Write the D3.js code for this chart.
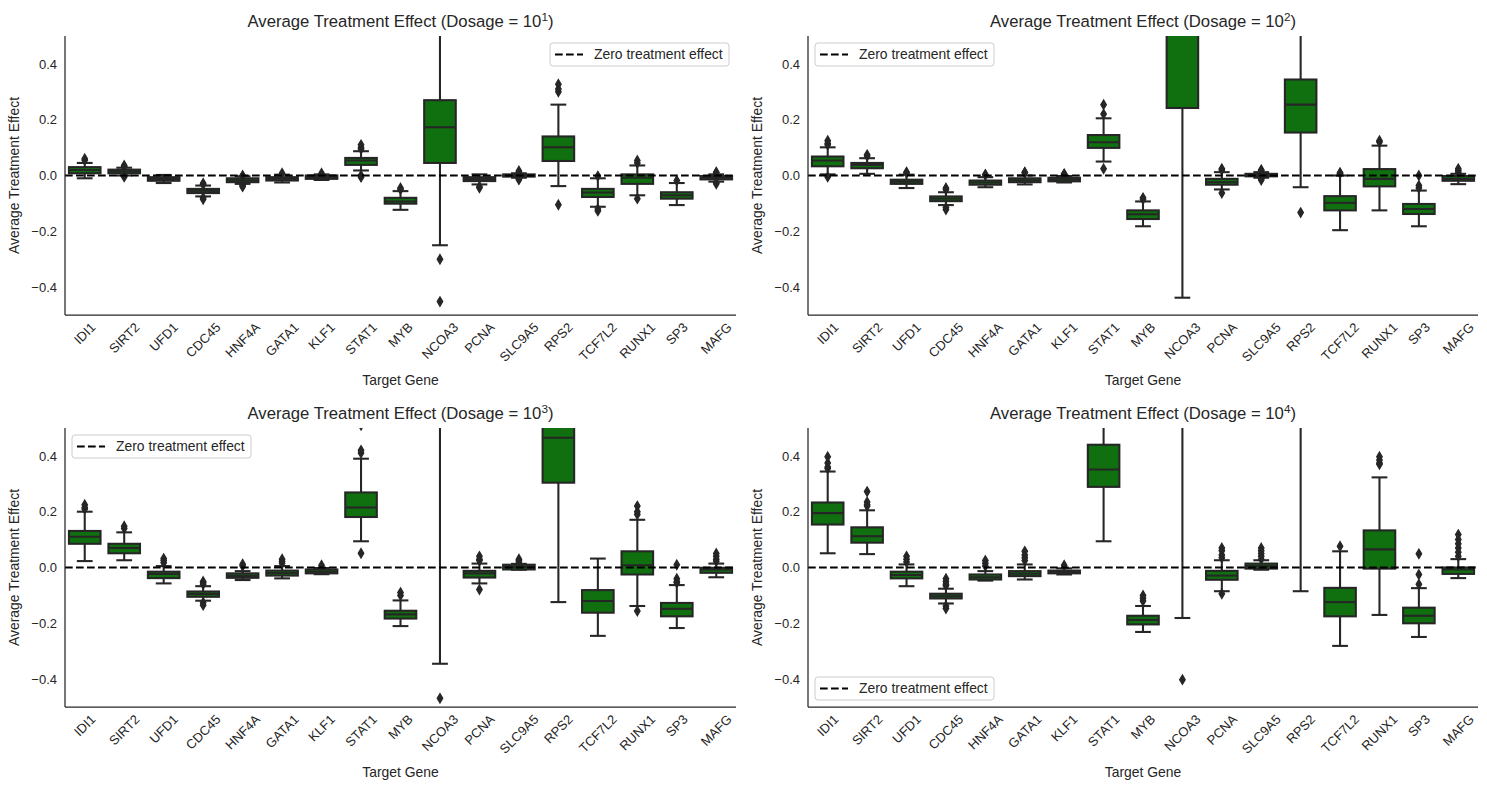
<!DOCTYPE html>
<html><head><meta charset="utf-8">
<script src="https://cdn.jsdelivr.net/npm/d3@7"></script>
<style>
body{margin:0;background:#fff;}
text{font-family:"Liberation Sans",Arial,sans-serif;fill:#262626;}
</style>
</head><body>
<svg id="c" width="1487" height="790"></svg>
<script>
// ---------------- DATA ----------------
const genes = ["IDI1","SIRT2","UFD1","CDC45","HNF4A","GATA1","KLF1","STAT1","MYB","NCOA3","PCNA","SLC9A5","RPS2","TCF7L2","RUNX1","SP3","MAFG"];
const dosageExponents = ["1","2","3","4"];
const yTicks = [-0.4, -0.2, 0.0, 0.2, 0.4];
const legendLabel = "Zero treatment effect";
const xLabel = "Target Gene";
const yLabel = "Average Treatment Effect";

// one row per dosage (10^1 .. 10^4), one value per gene
const q1 = [
  [0.008,0.008,-0.019,-0.063,-0.024,-0.018,-0.012,0.038,-0.101,0.045,-0.020,-0.004,0.052,-0.077,-0.030,-0.083,-0.014],
  [0.033,0.026,-0.030,-0.092,-0.033,-0.024,-0.021,0.099,-0.156,0.242,-0.033,-0.003,0.154,-0.125,-0.039,-0.138,-0.019],
  [0.085,0.051,-0.038,-0.105,-0.037,-0.029,-0.021,0.181,-0.183,0.600,-0.036,-0.007,0.304,-0.162,-0.025,-0.175,-0.019],
  [0.154,0.089,-0.039,-0.111,-0.043,-0.031,-0.021,0.289,-0.204,0.700,-0.044,-0.004,0.800,-0.175,-0.004,-0.200,-0.023]
];
const median = [
  [0.020,0.015,-0.013,-0.055,-0.017,-0.012,-0.006,0.054,-0.093,0.173,-0.013,0.000,0.101,-0.061,-0.008,-0.071,-0.008],
  [0.054,0.038,-0.022,-0.083,-0.025,-0.017,-0.015,0.119,-0.139,0.550,-0.024,0.002,0.254,-0.098,-0.012,-0.120,-0.012],
  [0.110,0.070,-0.023,-0.095,-0.030,-0.020,-0.015,0.215,-0.168,0.900,-0.021,0.002,0.465,-0.120,0.008,-0.148,-0.007],
  [0.195,0.112,-0.027,-0.103,-0.035,-0.022,-0.016,0.351,-0.188,1.000,-0.029,0.005,1.100,-0.124,0.065,-0.173,-0.007]
];
const q3 = [
  [0.030,0.021,-0.006,-0.048,-0.010,-0.006,0.000,0.063,-0.080,0.270,-0.006,0.004,0.140,-0.048,0.004,-0.060,-0.002],
  [0.068,0.045,-0.015,-0.075,-0.018,-0.010,-0.008,0.145,-0.125,0.850,-0.012,0.006,0.344,-0.074,0.023,-0.102,-0.002],
  [0.131,0.085,-0.015,-0.086,-0.021,-0.011,-0.007,0.269,-0.155,1.200,-0.012,0.010,0.620,-0.081,0.058,-0.127,-0.001],
  [0.233,0.144,-0.015,-0.094,-0.025,-0.013,-0.011,0.440,-0.173,1.300,-0.012,0.014,1.400,-0.073,0.133,-0.144,0.000]
];
const whiskerLow = [
  [-0.010,0.000,-0.027,-0.075,-0.030,-0.025,-0.016,0.018,-0.123,-0.250,-0.032,-0.008,-0.038,-0.112,-0.071,-0.106,-0.022],
  [0.004,0.006,-0.045,-0.106,-0.042,-0.032,-0.025,0.050,-0.182,-0.438,-0.050,-0.008,-0.042,-0.196,-0.125,-0.182,-0.031],
  [0.023,0.026,-0.057,-0.119,-0.045,-0.039,-0.024,0.094,-0.210,-0.345,-0.057,-0.008,-0.124,-0.245,-0.138,-0.217,-0.035],
  [0.051,0.048,-0.067,-0.129,-0.047,-0.043,-0.025,0.094,-0.231,-0.181,-0.085,-0.008,-0.085,-0.281,-0.170,-0.249,-0.038]
];
const whiskerHigh = [
  [0.045,0.028,0.002,-0.036,-0.003,0.003,0.004,0.087,-0.056,0.600,0.004,0.008,0.254,-0.010,0.036,-0.027,0.004],
  [0.101,0.062,0.003,-0.060,-0.006,0.000,-0.002,0.205,-0.093,1.500,0.012,0.012,0.700,0.000,0.107,-0.054,0.006],
  [0.200,0.126,0.005,-0.067,-0.013,0.005,-0.002,0.390,-0.118,2.000,0.014,0.013,1.000,0.032,0.171,-0.063,0.014],
  [0.344,0.205,0.011,-0.076,-0.013,0.011,-0.003,0.650,-0.138,2.000,0.026,0.026,2.000,0.058,0.323,-0.074,0.030]
];
const outliers = [
  [[0.055,0.060],[0.032,0.036,-0.005],[],[-0.028,-0.032,-0.080,-0.085],[0.000,-0.002,-0.033,-0.036,-0.040],[0.008],[0.008],[0.095,0.100,0.110,0.000,-0.006],[-0.045,-0.050],[-0.300,-0.452],[-0.040,-0.044],[0.012,0.016,-0.012,-0.015],[0.300,0.310,0.327,-0.105],[-0.002,-0.120,-0.127],[0.045,0.054,-0.083],[-0.018],[0.010,0.012,-0.026,-0.030]],
  [[0.110,0.115,0.125,-0.005],[0.070,0.074],[0.010,0.012],[-0.045,-0.050,-0.115,-0.122],[0.002,0.004],[0.010,0.012],[0.004,0.006],[0.220,0.254,0.024],[-0.080,-0.085],[],[0.020,0.024,-0.063],[0.018,0.020,-0.012,-0.016],[-0.133],[0.008,0.010],[0.120,0.125],[0.000,-0.036,-0.045],[0.012,0.018,0.024]],
  [[0.210,0.215,0.225],[0.140,0.148],[0.017,0.025,0.032],[-0.050,-0.055,-0.060,-0.126,-0.135],[0.005,0.012],[0.015,0.022,0.030],[0.008],[0.410,0.420,0.510,0.051],[-0.090,-0.100],[-0.469],[0.025,0.030,0.040,-0.079],[0.020,0.025,0.030],[],[],[0.190,0.200,0.220,-0.156],[-0.040,-0.050,-0.055,0.010],[0.022,0.030,0.040,0.050]],
  [[0.355,0.360,0.375,0.397],[0.220,0.225,0.235,0.272],[0.020,0.030,0.040],[-0.040,-0.050,-0.060,-0.065,-0.138,-0.147],[0.005,0.015,0.025],[0.025,0.035,0.045,0.058],[0.008],[],[-0.100,-0.110,-0.120],[-0.402],[0.035,0.045,0.060,0.070,-0.094],[0.030,0.040,0.050,0.060,0.070],[],[0.076],[0.370,0.375,0.385,0.397],[-0.025,-0.060,0.049],[0.040,0.055,0.070,0.085,0.100,0.118]]
];

// ---------------- LAYOUT / STYLE ----------------
const panels = [
  {left:65, right:736, top:36, bottom:315, legend:"upper right"},
  {left:808, right:1478, top:36, bottom:315, legend:"upper left"},
  {left:65, right:736, top:428, bottom:707, legend:"upper left"},
  {left:808, right:1478, top:428, bottom:707, legend:"lower left"}
];
const BOX_FILL = "#107010", GRAY = "#262626";
const TICK_FS = 13, LABEL_FS = 13.9, TITLE_FS = 16.7;

const svg = d3.select("#c");

panels.forEach((p, i) => {
  const g = svg.append("g");
  const x = d3.scaleBand().domain(genes).range([p.left, p.right]).padding(0);
  const y = d3.scaleLinear().domain([-0.5, 0.5]).range([p.bottom, p.top]);
  const bw = x.bandwidth() * 0.8;

  const clipId = "clip" + i;
  svg.append("clipPath").attr("id", clipId).append("rect")
    .attr("x", p.left).attr("y", p.top).attr("width", p.right - p.left).attr("height", p.bottom - p.top);

  const plot = g.append("g").attr("clip-path", `url(#${clipId})`);

  genes.forEach((gene, j) => {
    const cx = x(gene) + x.bandwidth() / 2;
    const b = plot.append("g");
    // whiskers
    b.append("line").attr("x1", cx).attr("x2", cx).attr("y1", y(q3[i][j])).attr("y2", y(whiskerHigh[i][j]))
      .attr("stroke", GRAY).attr("stroke-width", 2.08);
    b.append("line").attr("x1", cx).attr("x2", cx).attr("y1", y(q1[i][j])).attr("y2", y(whiskerLow[i][j]))
      .attr("stroke", GRAY).attr("stroke-width", 2.08);
    // caps
    [whiskerHigh[i][j], whiskerLow[i][j]].forEach(v => {
      b.append("line").attr("x1", cx - bw / 4).attr("x2", cx + bw / 4).attr("y1", y(v)).attr("y2", y(v))
        .attr("stroke", GRAY).attr("stroke-width", 2.08);
    });
    // box
    b.append("rect").attr("x", cx - bw / 2).attr("width", bw)
      .attr("y", y(q3[i][j])).attr("height", Math.max(0, y(q1[i][j]) - y(q3[i][j])))
      .attr("fill", BOX_FILL).attr("stroke", GRAY).attr("stroke-width", 2.08);
    // median
    b.append("line").attr("x1", cx - bw / 2).attr("x2", cx + bw / 2)
      .attr("y1", y(median[i][j])).attr("y2", y(median[i][j]))
      .attr("stroke", GRAY).attr("stroke-width", 2.08);
    // fliers
    outliers[i][j].forEach(v => {
      const h = 9.5, w = 5.6, yy = y(v);
      b.append("path")
        .attr("d", `M${cx},${yy - h / 2}L${cx + w / 2},${yy}L${cx},${yy + h / 2}L${cx - w / 2},${yy}Z`)
        .attr("fill", GRAY).attr("stroke", GRAY).attr("stroke-width", 1.2);
    });
  });

  // zero line
  plot.append("line").attr("x1", p.left).attr("x2", p.right).attr("y1", y(0)).attr("y2", y(0))
    .attr("stroke", "#000").attr("stroke-width", 2.08).attr("stroke-dasharray", "7.7,3.3");

  // y axis
  const ya = g.append("g").attr("transform", `translate(${p.left},0)`)
    .call(d3.axisLeft(y).tickValues(yTicks).tickSize(0).tickSizeOuter(0).tickPadding(8).tickFormat(d3.format(".1f")));
  ya.select(".domain").remove();
  ya.selectAll("text").attr("font-size", TICK_FS).style("font-family", '"Liberation Sans",Arial,sans-serif').attr("fill", GRAY);

  // x axis
  const xa = g.append("g").attr("transform", `translate(0,${p.bottom})`)
    .call(d3.axisBottom(x).tickSize(0).tickSizeOuter(0));
  xa.select(".domain").remove();
  xa.selectAll(".tick").attr("transform", null);
  xa.selectAll(".tick text").each(function(d) {
    const t = d3.select(this);
    t.attr("font-size", TICK_FS).style("font-family", '"Liberation Sans",Arial,sans-serif').attr("fill", GRAY)
      .attr("text-anchor", "middle").attr("y", null).attr("dy", "0.35em");
    const len = this.getComputedTextLength();
    const cx = x(d) + x.bandwidth() / 2;
    const cy = 4.9 + (len + TICK_FS * 1.1) * Math.SQRT1_2 / 2;
    t.attr("x", 0).attr("transform", `translate(${cx},${cy}) rotate(-45)`);
  });

  // spines
  g.append("line").attr("x1", p.left).attr("x2", p.left).attr("y1", p.top).attr("y2", p.bottom)
    .attr("stroke", GRAY).attr("stroke-width", 1.25);
  g.append("line").attr("x1", p.left).attr("x2", p.right).attr("y1", p.bottom).attr("y2", p.bottom)
    .attr("stroke", GRAY).attr("stroke-width", 1.25);

  // axis labels
  g.append("text").attr("x", (p.left + p.right) / 2).attr("y", p.bottom + 70)
    .attr("text-anchor", "middle").attr("font-size", LABEL_FS).text(xLabel);
  g.append("text").attr("transform", `translate(${p.left - 51},${(p.top + p.bottom) / 2}) rotate(-90)`)
    .attr("text-anchor", "middle").attr("dy", "0.35em").attr("font-size", LABEL_FS).text(yLabel);

  // title
  const title = g.append("text").attr("x", (p.left + p.right) / 2).attr("y", p.top - 9)
    .attr("text-anchor", "middle").attr("font-size", TITLE_FS);
  title.append("tspan").text("Average Treatment Effect (Dosage = 10");
  title.append("tspan").attr("font-size", TITLE_FS * 0.7).attr("dy", -6.5).text(dosageExponents[i]);
  title.append("tspan").attr("dy", 6.5).text(")");

  // legend
  const lw = 179, lh = 23, pad = 7;
  let lx, ly;
  if (p.legend === "upper right") { lx = p.right - pad - lw; ly = p.top + pad; }
  else if (p.legend === "upper left") { lx = p.left + pad; ly = p.top + pad; }
  else { lx = p.left + pad; ly = p.bottom - pad - lh; }
  const lg = g.append("g");
  lg.append("rect").attr("x", lx).attr("y", ly).attr("width", lw).attr("height", lh).attr("rx", 3)
    .attr("fill", "#fff").attr("fill-opacity", 0.8).attr("stroke", "#cccccc").attr("stroke-width", 1);
  lg.append("line").attr("x1", lx + 5).attr("x2", lx + 33).attr("y1", ly + lh / 2).attr("y2", ly + lh / 2)
    .attr("stroke", "#000").attr("stroke-width", 2.08).attr("stroke-dasharray", "7.7,3.3");
  lg.append("text").attr("x", lx + 44).attr("y", ly + lh / 2).attr("dy", "0.35em")
    .attr("font-size", LABEL_FS).text(legendLabel);
});
</script>
</body></html>
